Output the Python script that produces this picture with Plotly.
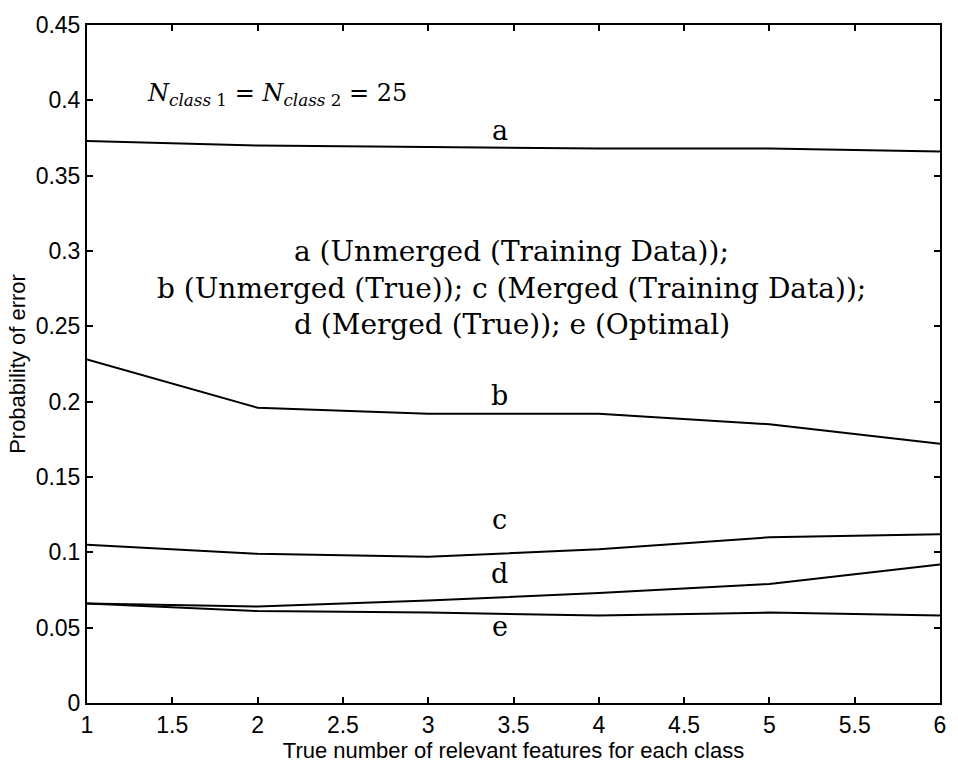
import plotly.graph_objects as go

# True number of relevant features per class
features = [1, 2, 3, 4, 5, 6]

# Probability of error for each classifier
err_a = [0.373, 0.370, 0.369, 0.368, 0.368, 0.366]   # Unmerged (Training Data)
err_b = [0.228, 0.196, 0.192, 0.192, 0.185, 0.172]   # Unmerged (True)
err_c = [0.105, 0.099, 0.097, 0.102, 0.110, 0.112]   # Merged (Training Data)
err_d = [0.066, 0.064, 0.068, 0.073, 0.079, 0.092]   # Merged (True)
err_e = [0.066, 0.061, 0.060, 0.058, 0.060, 0.058]   # Optimal

curve_labels = ["a", "b", "c", "d", "e"]
label_x = [3.42, 3.42, 3.42, 3.42, 3.42]
label_y = [0.380, 0.204, 0.122, 0.086, 0.051]

key_lines = ["a (Unmerged (Training Data));",
             "b (Unmerged (True)); c (Merged (Training Data));",
             "d (Merged (True)); e (Optimal)"]
key_y = [0.300, 0.275, 0.251]

x_ticks = [1, 1.5, 2, 2.5, 3, 3.5, 4, 4.5, 5, 5.5, 6]
y_ticks = [0, 0.05, 0.1, 0.15, 0.2, 0.25, 0.3, 0.35, 0.4, 0.45]

serif = "DejaVu Serif"
sans = "Liberation Sans"

fig = go.Figure()
for ys in [err_a, err_b, err_c, err_d, err_e]:
    fig.add_trace(go.Scatter(x=features, y=ys, mode="lines",
                             line=dict(color="black", width=2),
                             showlegend=False, hoverinfo="skip"))

for lab, lx, ly in zip(curve_labels, label_x, label_y):
    fig.add_annotation(x=lx, y=ly, text=lab, showarrow=False,
                       font=dict(family=serif, size=27, color="black"))

fig.add_annotation(x=1.34, y=0.404, xanchor="left", showarrow=False,
                   text="<i>N</i><sub><i>class</i> 1</sub> = <i>N</i><sub><i>class</i> 2</sub> = 25",
                   font=dict(family=serif, size=24, color="black"))

for line, ky in zip(key_lines, key_y):
    fig.add_annotation(x=3.49, y=ky, text=line, showarrow=False,
                       font=dict(family=serif, size=28, color="black"))

axis_common = dict(showgrid=False, zeroline=False, showline=True,
                   linecolor="black", linewidth=2, mirror="ticks",
                   ticks="inside", ticklen=6, tickwidth=1.5, tickcolor="black",
                   tickfont=dict(family=sans, size=23, color="black"))

fig.update_xaxes(range=[1, 6], tickvals=x_ticks,
                 ticktext=[f"{v:g}" for v in x_ticks],
                 title=dict(text="True number of relevant features for each class",
                            font=dict(family=sans, size=22, color="black"),
                            standoff=0),
                 **axis_common)
fig.update_yaxes(range=[0, 0.45], tickvals=y_ticks,
                 ticktext=[f"{v:g}" for v in y_ticks],
                 title=dict(text="Probability of error",
                            font=dict(family=sans, size=22, color="black"),
                            standoff=4),
                 **axis_common)

fig.update_layout(width=958, height=765,
                  margin=dict(l=87, r=17, t=17, b=62),
                  paper_bgcolor="white", plot_bgcolor="white")

fig.write_html("out.html")
